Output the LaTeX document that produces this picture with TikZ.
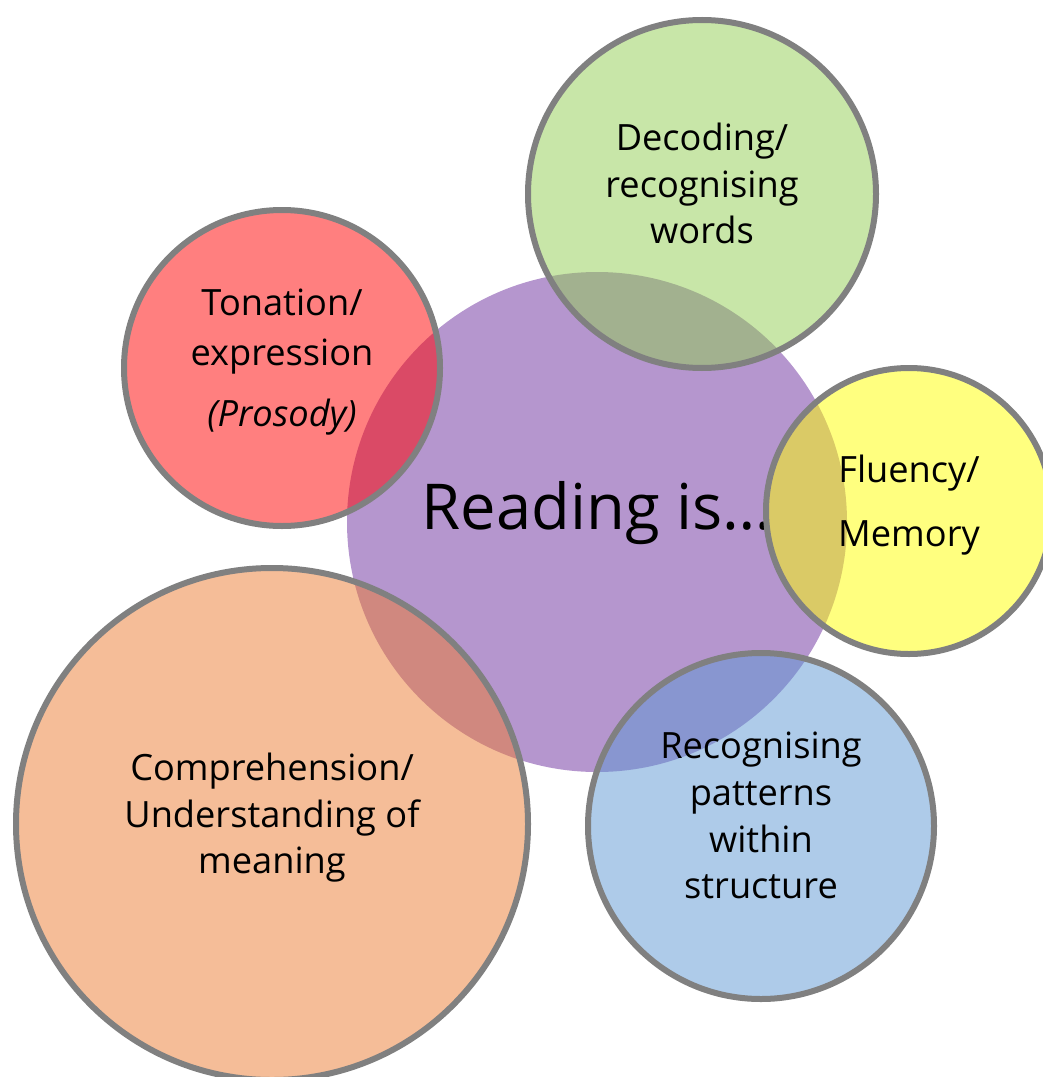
\documentclass[tikz,border=0pt]{standalone}
\usepackage{fontspec}
\setmainfont{Open Sans}
\usetikzlibrary{positioning}

\definecolor{readpurple}{RGB}{181,150,206}
\definecolor{decodegreen}{RGB}{145,205,81}
\definecolor{tonered}{RGB}{255,0,0}
\definecolor{fluencyyellow}{RGB}{255,255,0}
\definecolor{comporange}{RGB}{235,123,49}
\definecolor{patternblue}{RGB}{93,151,211}
\definecolor{rimgray}{RGB}{128,128,128}

\tikzset{
  bubble/.style={circle, draw=rimgray, line width=0.06cm, fill opacity=0.5,
    text opacity=1, align=center, inner sep=0pt, on grid, text depth=6pt,
    font=\fontsize{10.3}{13.3}\selectfont},
}

\begin{document}
\begin{tikzpicture}
\useasboundingbox (0,0) rectangle (10.43,-10.77);
\node[circle, fill=readpurple, minimum size=5cm, inner sep=0pt,
  text height=12.6pt, text depth=8.5pt, font=\fontsize{18}{22}\selectfont]
  (read) at (5.97,-5.22) {Reading is…};
\node[bubble, fill=decodegreen, minimum size=3.48cm,
  above right = 3.28cm and 1.05cm of read] (decode) {Decoding/\\recognising\\words};
\node[bubble, fill=tonered, minimum size=3.16cm,
  above left = 1.54cm and 3.15cm of read] (tone) {Tonation/\\[1pt]expression\\[4pt]\textit{(Prosody)}};
\node[bubble, fill=fluencyyellow, minimum size=2.86cm,
  above right = 0.11cm and 3.12cm of read] (fluency) {Fluency/\\[5pt]Memory};
\node[bubble, fill=comporange, minimum size=5.12cm,
  below left = 3.02cm and 3.25cm of read] (comp) {Comprehension/\\Understanding of\\meaning};
\node[bubble, fill=patternblue, minimum size=3.46cm,
  below right = 3.04cm and 1.64cm of read] (pattern) {Recognising\\patterns\\within\\structure};
\end{tikzpicture}
\end{document}
